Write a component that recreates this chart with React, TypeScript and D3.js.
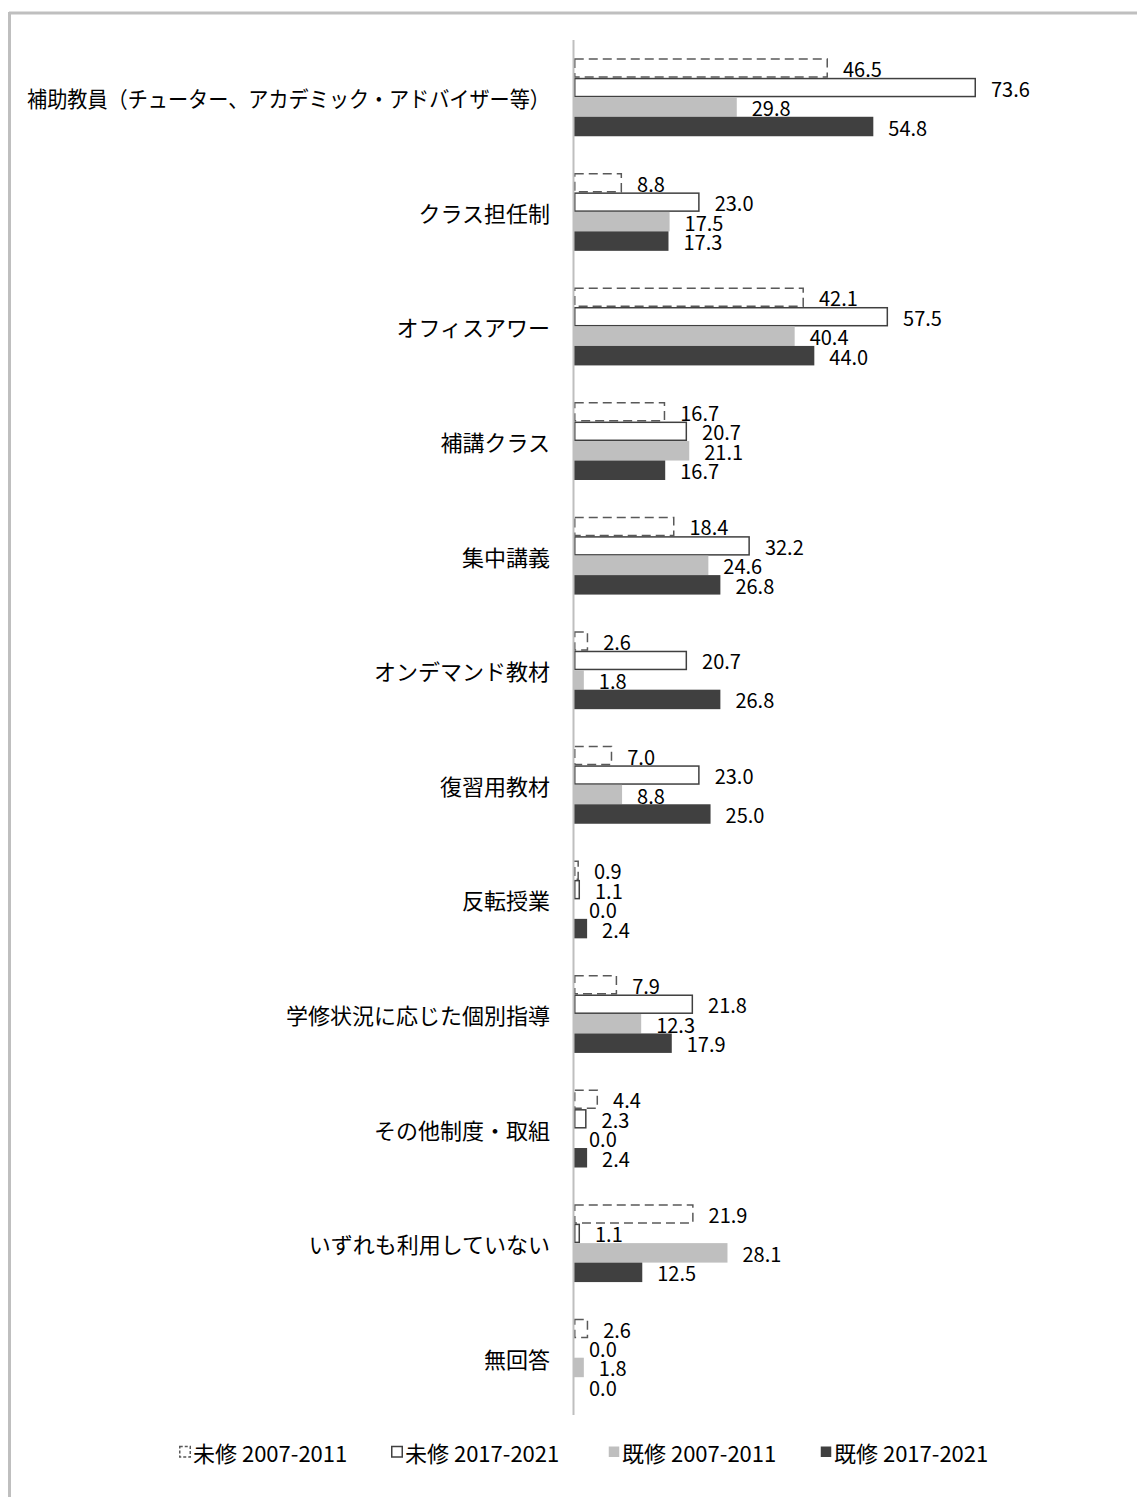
import React from 'react';
import * as d3 from 'd3';

const categories = [
  '補助教員（チューター、アカデミック・アドバイザー等）',
  'クラス担任制',
  'オフィスアワー',
  '補講クラス',
  '集中講義',
  'オンデマンド教材',
  '復習用教材',
  '反転授業',
  '学修状況に応じた個別指導',
  'その他制度・取組',
  'いずれも利用していない',
  '無回答',
];

const seriesNames = ['未修 2007-2011', '未修 2017-2021', '既修 2007-2011', '既修 2017-2021'];

const mishu2007 = [46.5, 8.8, 42.1, 16.7, 18.4, 2.6, 7.0, 0.9, 7.9, 4.4, 21.9, 2.6];
const mishu2017 = [73.6, 23.0, 57.5, 20.7, 32.2, 20.7, 23.0, 1.1, 21.8, 2.3, 1.1, 0.0];
const kishu2007 = [29.8, 17.5, 40.4, 21.1, 24.6, 1.8, 8.8, 0.0, 12.3, 0.0, 28.1, 1.8];
const kishu2017 = [54.8, 17.3, 44.0, 16.7, 26.8, 26.8, 25.0, 2.4, 17.9, 2.4, 12.5, 0.0];

const seriesValues = [mishu2007, mishu2017, kishu2007, kishu2017];

const W = 1137;
const H = 1497;
const FONT = '"Noto Sans CJK JP", "Noto Sans", sans-serif';

const styles = [
  { fill: '#ffffff', stroke: '#595959', dash: '9,5' },
  { fill: '#ffffff', stroke: '#404040', dash: undefined },
  { fill: '#bfbfbf', stroke: 'none', dash: undefined },
  { fill: '#404040', stroke: 'none', dash: undefined },
];

export default function App() {
  const x = d3.scaleLinear().domain([0, 73.6]).range([574, 976]);
  const y = d3.scaleBand<string>().domain(categories).range([40, 1415]).paddingInner(0.32).paddingOuter(0.16);
  const inner = d3.scaleBand<number>().domain([0, 1, 2, 3]).range([0, y.bandwidth()]);
  const bh = inner.bandwidth();

  const legendX = [179, 391, 608, 820];
  const legendY = 1452;

  return (
    <svg width={W} height={H} style={{ position: 'absolute', left: 0, top: 0, background: '#fff' }}>
      {/* frame */}
      <line x1={9} x2={W} y1={13} y2={13} stroke="#bfbfbf" strokeWidth={3} />
      <line x1={9.5} x2={9.5} y1={12} y2={H} stroke="#bfbfbf" strokeWidth={3} />

      {/* category labels */}
      {categories.map((c, i) => (
        <text
          key={c}
          x={550}
          y={(y(c) ?? 0) + y.bandwidth() / 2}
          textAnchor="end"
          dominantBaseline="central"
          fontFamily={FONT}
          fontSize={22}
          fill="#000"
          textLength={i === 0 ? 523 : undefined}
          lengthAdjust={i === 0 ? 'spacingAndGlyphs' : undefined}
        >
          {c}
        </text>
      ))}

      {/* bars */}
      {categories.map((c, i) => (
        <g key={c} transform={`translate(0,${y(c)})`}>
          {seriesValues.map((vals, s) => {
            const v = vals[i];
            const st = styles[s];
            const by = inner(s) ?? 0;
            const w = x(v) - x(0);
            const sw = st.stroke !== 'none' ? 0.75 : 0;
            return (
              <g key={s}>
                {v > 0 && (
                  <rect
                    x={x(0) + sw}
                    y={by + sw}
                    width={Math.max(0, w - 2 * sw)}
                    height={bh - 2 * sw}
                    fill={st.fill}
                    stroke={st.stroke}
                    strokeWidth={1.5}
                    strokeDasharray={st.dash}
                  />
                )}
                <text
                  x={x(v) + 15}
                  y={by + bh / 2 + 0.5}
                  dominantBaseline="central"
                  fontFamily={FONT}
                  fontSize={20}
                  fill="#000"
                >
                  {v.toFixed(1)}
                </text>
              </g>
            );
          })}
        </g>
      ))}

      {/* axis line */}
      <line x1={573.5} x2={573.5} y1={40} y2={1415} stroke="#bfbfbf" strokeWidth={2} />

      {/* legend */}
      {seriesNames.map((n, s) => {
        const st = styles[s];
        const lx = legendX[s];
        return (
          <g key={n}>
            <rect
              x={lx + 0.75}
              y={legendY - 5.5}
              width={10.5}
              height={10.5}
              fill={st.fill}
              stroke={st.stroke}
              strokeWidth={1.5}
              strokeDasharray={st.dash ? '3,2' : undefined}
            />
            <text
              x={lx + 14}
              y={legendY}
              dominantBaseline="central"
              fontFamily={FONT}
              fontSize={22}
              fill="#000"
            >
              {n}
            </text>
          </g>
        );
      })}
    </svg>
  );
}
